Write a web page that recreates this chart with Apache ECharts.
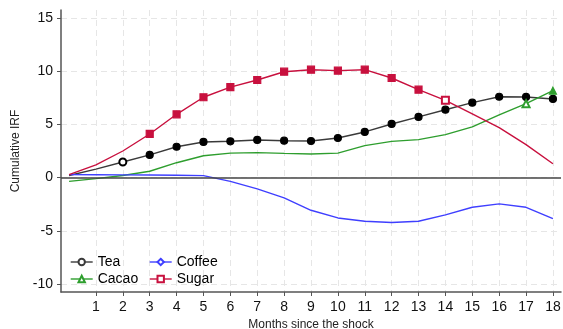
<!DOCTYPE html>
<html>
<head>
<meta charset="utf-8">
<script src="https://cdn.jsdelivr.net/npm/echarts@6/dist/echarts.min.js"></script>
<style>
html,body{margin:0;padding:0;background:#fff;}
#chart{width:563px;height:329px;}
</style>
</head>
<body>
<div id="chart"></div>
<script>
const months = [0,1,2,3,4,5,6,7,8,9,10,11,12,13,14,15,16,17,18];
const xTicks = [1,2,3,4,5,6,7,8,9,10,11,12,13,14,15,16,17,18];
const yTicks = [-10,-5,0,5,10,15];

const tea    = [0.2,0.8,1.47,2.13,2.9,3.35,3.41,3.54,3.47,3.44,3.72,4.29,5.04,5.7,6.38,7.04,7.6,7.58,7.39];
const cacao  = [-0.35,-0.1,0.2,0.6,1.4,2.05,2.3,2.35,2.28,2.22,2.3,3.0,3.4,3.57,4.04,4.76,5.9,6.95,8.17];
const coffee = [0.28,0.27,0.26,0.24,0.22,0.19,-0.35,-1.06,-1.9,-3.07,-3.79,-4.1,-4.22,-4.1,-3.5,-2.79,-2.47,-2.79,-3.85];
const sugar  = [0.28,1.2,2.5,4.1,5.95,7.55,8.5,9.17,9.95,10.14,10.05,10.14,9.36,8.26,7.26,6.0,4.7,3.1,1.3];

// marker state per month: 'f' filled, 'h' hollow, '' none
const teaMark    = ['','','h','f','f','f','f','f','f','f','f','f','f','f','f','f','f','f','f'];
const cacaoMark  = ['','','','','','','','','','','','','','','','','','h','f'];
const coffeeMark = ['','','','','','','','','','','','','','','','','','',''];
const sugarMark  = ['','','','f','f','f','f','f','f','f','f','f','f','f','h','','','',''];

function build(vals, marks, filledSym, color) {
  return vals.map((v, i) => {
    const m = marks[i];
    if (m === 'f') return {value: [months[i], v], symbol: filledSym, itemStyle: {color: color, borderColor: color}};
    if (m === 'h') return {value: [months[i], v]};
    return {value: [months[i], v], symbol: 'none'};
  });
}

const C = {tea: '#000000', teaLine: '#3a3a3a', cacao: '#2e9e2e', coffee: '#3f3fff', sugar: '#c8103e'};

function series(name, vals, marks, emptySym, filledSym, color, lineColor) {
  return {
    name: name, type: 'line', data: build(vals, marks, filledSym, color),
    symbol: emptySym, symbolSize: 7, showAllSymbol: true,
    lineStyle: {color: lineColor || color, width: 1.4},
    itemStyle: {color: color, borderColor: color, borderWidth: 1.2},
    emphasis: {disabled: true}, animation: false, z: 3
  };
}

const legendBase = {
  itemWidth: 22, itemHeight: 8, itemGap: 5,
  textStyle: {fontFamily: 'Liberation Sans', fontSize: 14, color: '#000', padding: [0,0,0,0]},
  selectedMode: false, padding: 0
};
function leg(name, color, left, top) {
  return Object.assign({}, legendBase, {left: left, top: top,
    data: [{name: name, itemStyle: {color: color, borderColor: color, borderWidth: 1.2}, lineStyle: {color: color, width: 1.4}}]});
}

const chart = echarts.init(document.getElementById('chart'), null, {renderer: 'canvas'});
chart.setOption({
  backgroundColor: '#fff',
  animation: false,
  grid: {left: 61, right: 2, top: 10, bottom: 37, outerBoundsMode: 'none', containLabel: false},
  xAxis: {
    type: 'value', min: -0.3, max: 18.3,
    name: 'Months since the shock', nameLocation: 'middle', nameGap: 25,
    nameTextStyle: {fontFamily: 'Liberation Sans', fontSize: 12, color: '#222'},
    axisLine: {show: true, onZero: false, lineStyle: {color: '#555', width: 1.5}},
    axisTick: {show: true, length: 4, customValues: xTicks, lineStyle: {color: '#555'}},
    axisLabel: {customValues: xTicks, margin: 8, fontFamily: 'Liberation Sans', fontSize: 14, color: '#111'},
    splitLine: {show: true, lineStyle: {color: '#e6e6e6', type: [6,4], width: 1}}
  },
  yAxis: {
    type: 'value', min: -10.75, max: 15.75,
    name: 'Cumulative IRF', nameLocation: 'middle', nameGap: 29,
    nameTextStyle: {fontFamily: 'Liberation Sans', fontSize: 12, color: '#222'},
    axisLine: {show: true, onZero: false, lineStyle: {color: '#555', width: 1.5}},
    axisTick: {show: true, length: 4, customValues: yTicks, lineStyle: {color: '#555'}},
    axisLabel: {customValues: yTicks, margin: 8, fontFamily: 'Liberation Sans', fontSize: 14, color: '#111'},
    splitLine: {show: true, lineStyle: {color: '#e6e6e6', type: [6,4], width: 1}}
  },
  legend: [
    leg('Tea', C.teaLine, 70, 255),
    leg('Coffee', C.coffee, 149, 255),
    leg('Cacao', C.cacao, 70, 272),
    leg('Sugar', C.sugar, 149, 272)
  ],
  series: [
    Object.assign(series('Tea', tea, teaMark, 'emptyCircle', 'circle', C.tea, C.teaLine), {
      markLine: {
        silent: true, symbol: 'none', animation: false,
        label: {show: false},
        lineStyle: {color: '#444', width: 1.6, type: 'solid'},
        data: [{yAxis: 0}]
      }
    }),
    series('Cacao', cacao, cacaoMark, 'emptyTriangle', 'triangle', C.cacao),
    series('Coffee', coffee, coffeeMark, 'emptyDiamond', 'diamond', C.coffee),
    series('Sugar', sugar, sugarMark, 'emptyRect', 'rect', C.sugar)
  ]
});
</script>
</body>
</html>
